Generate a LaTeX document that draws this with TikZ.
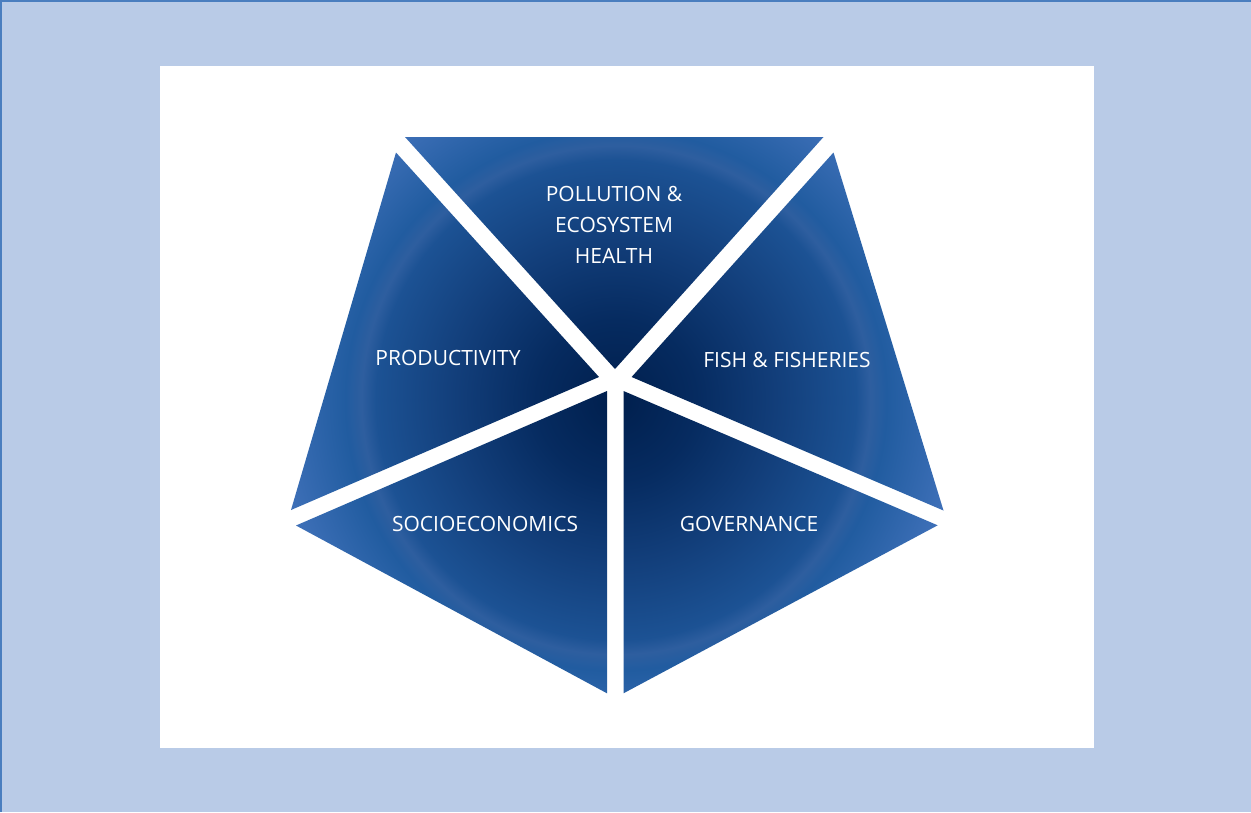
\documentclass[tikz,border=0pt]{standalone}
\usepackage{fontspec}
\setmainfont{Open Sans}
\definecolor{bgblue}{HTML}{B9CBE7}
\definecolor{edgeblue}{HTML}{4A7EBF}
\definecolor{ca}{HTML}{001F4D}
\definecolor{cb}{HTML}{062B60}
\definecolor{cc}{HTML}{123E7A}
\definecolor{cd}{HTML}{1C5294}
\definecolor{ce}{HTML}{2E5E9F}
\definecolor{cf}{HTML}{215CA0}
\definecolor{cg}{HTML}{3D6FB7}
\definecolor{ch}{HTML}{4C7DC3}
\definecolor{ci}{HTML}{5588CC}
\pgfdeclareradialshading{pent}{\pgfpoint{0bp}{0bp}}{color(0bp)=(ca); color(5bp)=(cb); color(10bp)=(cc); color(15bp)=(cd); color(15.9bp)=(ce); color(16.9bp)=(cf); color(21.25bp)=(cg); color(25bp)=(ch); color(50bp)=(ci)}
\tikzset{
  lbl/.style={text=white, font=\fontsize{21}{31}\selectfont, anchor=base, align=center, inner sep=0pt}
}
\begin{document}
\begin{tikzpicture}[x=1pt,y=-1pt]
\useasboundingbox (0,0) rectangle (1251,812);
\fill[bgblue] (0,0) rectangle (1251,812);
\draw[edgeblue, line width=2pt] (1,812) -- (1,1) -- (1251,1);
\fill[white] (160,66) rectangle (1094,748);
\begin{scope}
\clip (405,137) -- (823.5,137) -- (615,369) -- cycle
      (396,152.5) -- (291,510) -- (599,377) -- cycle
      (833.5,152.5) -- (943.5,510.5) -- (631.6,377) -- cycle
      (296,525.5) -- (607,693.3) -- (607,391) -- cycle
      (937.7,525.3) -- (623.5,693.3) -- (623.5,391) -- cycle;
\shade[shading=pent] (216,0) rectangle (1016,800);
\end{scope}
\node[lbl] (poll) at (614,263) {POLLUTION \&\\ECOSYSTEM\\HEALTH};
\node[lbl] (prod) at (448,365.5) {PRODUCTIVITY};
\node[lbl] (fish) at (787,367.5) {FISH \& FISHERIES};
\node[lbl] (socio) at (485,531.5) {SOCIOECONOMICS};
\node[lbl] (gov) at (749,531.5) {GOVERNANCE};
\end{tikzpicture}
\end{document}
